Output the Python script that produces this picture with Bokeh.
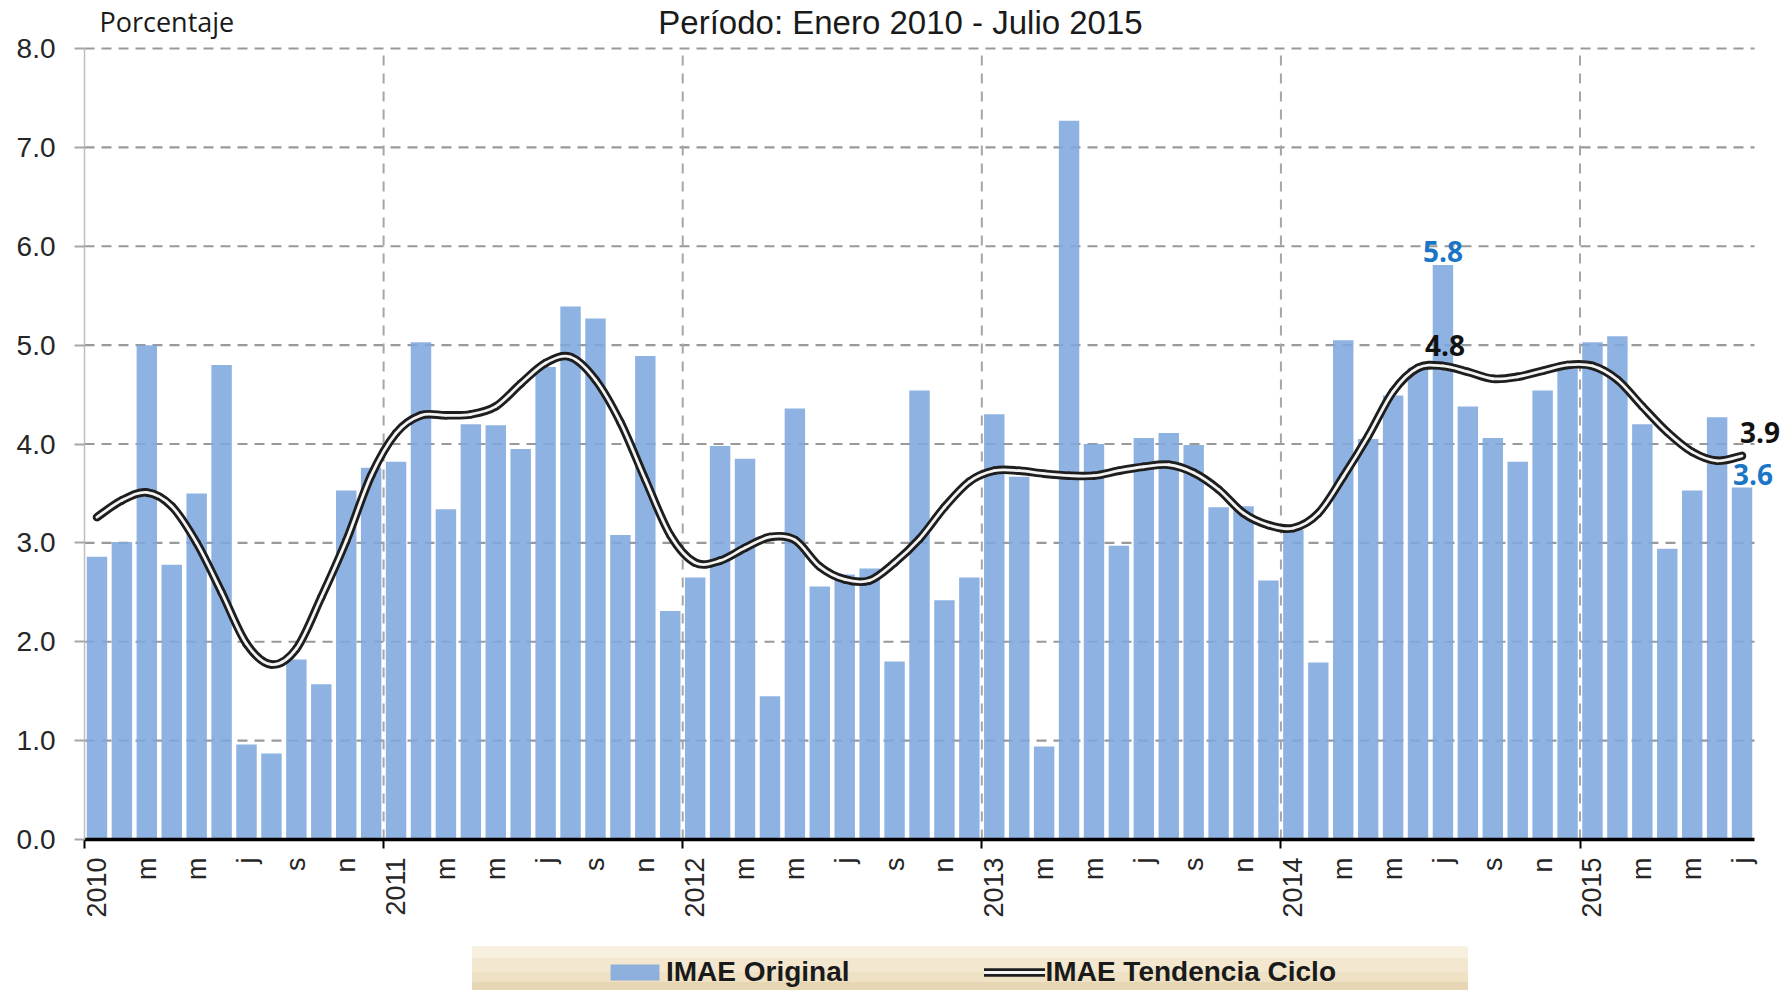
import math
from bokeh.plotting import figure
from bokeh.layouts import column
from bokeh.models import (Range1d, FixedTicker, NumeralTickFormatter, ColumnDataSource,
                          LabelSet, Label, Legend, LegendItem)
from bokeh.embed import file_html
from bokeh.resources import INLINE
from bokeh.core.properties import value

# ---------------- data ----------------
years = [2010, 2011, 2012, 2013, 2014, 2015]
month_letters = ["e", "f", "m", "a", "m", "j", "j", "a", "s", "o", "n", "d"]
shown_months = [0, 2, 4, 6, 8, 10]   # Jan (year), Mar, May, Jul, Sep, Nov

imae_original = [
    2.86, 3.01, 5.00, 2.78, 3.50, 4.80, 0.96, 0.87, 1.82, 1.57, 3.53, 3.76,   # 2010
    3.82, 5.03, 3.34, 4.20, 4.19, 3.95, 4.78, 5.39, 5.27, 3.08, 4.89, 2.31,   # 2011
    2.65, 3.98, 3.85, 1.45, 4.36, 2.56, 2.68, 2.74, 1.80, 4.54, 2.42, 2.65,   # 2012
    4.30, 3.67, 0.94, 7.27, 4.00, 2.97, 4.06, 4.11, 3.99, 3.36, 3.37, 2.62,   # 2013
    3.13, 1.79, 5.05, 4.05, 4.49, 4.77, 5.81, 4.38, 4.06, 3.82, 4.54, 4.76,   # 2014
    5.03, 5.09, 4.20, 2.94, 3.53, 4.27, 3.56,                                 # 2015
]
imae_tendencia = [
    3.26, 3.43, 3.51, 3.37, 3.00, 2.50, 1.98, 1.77, 1.93, 2.45, 3.02, 3.68,   # 2010
    4.11, 4.29, 4.29, 4.30, 4.38, 4.61, 4.82, 4.88, 4.65, 4.22, 3.64, 3.08,   # 2011
    2.80, 2.82, 2.95, 3.06, 3.03, 2.76, 2.63, 2.62, 2.80, 3.04, 3.36, 3.62,   # 2012
    3.73, 3.73, 3.70, 3.68, 3.68, 3.73, 3.77, 3.79, 3.71, 3.54, 3.30, 3.18,   # 2013
    3.15, 3.30, 3.67, 4.08, 4.53, 4.77, 4.79, 4.73, 4.66, 4.68, 4.74, 4.80,   # 2014
    4.79, 4.65, 4.38, 4.12, 3.92, 3.83, 3.88,                                 # 2015
]
bar_label_idx = [54, 66]     # Jul 2014, Jul 2015
trend_label_idx = [54, 66]
y_ticks = [0, 1, 2, 3, 4, 5, 6, 7, 8]
series_names = ["IMAE Original", "IMAE Tendencia Ciclo"]
title_text = "Período: Enero 2010 - Julio 2015"
y_unit_text = "Porcentaje"

# ---------------- layout constants (pixels) ----------------
W = 1783
H_MAIN = 946
H_LEG = 44
FRAME_LEFT = 84          # y axis position
FRAME_BOTTOM = 839       # x axis position (from top)
PLOT_TOP = 48            # where the top tick (8.0) lies
PLOT_RIGHT = 1754        # where the last month ends
LABEL_FIX = 9            # screen-label baseline correction

BAR = "#7ea7de"
FONT = "Liberation Sans"

# ---------------- derived ----------------
n = len(imae_original)
xc = [i + 0.5 for i in range(n)]
tick_pos, tick_lab = [], []
for i in range(n):
    m = i % 12
    if m in shown_months:
        tick_pos.append(xc[i])
        tick_lab.append(str(years[i // 12]) if m == 0 else month_letters[m])
year_starts = [12 * k for k in range(len(years))]
ymax = y_ticks[-1]

# smooth (Catmull-Rom style) rendering of the trend series as Bezier segments
bx0, by0, bx1, by1, bcx0, bcy0, bcx1, bcy1 = ([] for _ in range(8))
for i in range(n - 1):
    a, b = max(i - 1, 0), min(i + 2, n - 1)
    bx0.append(xc[i]); by0.append(imae_tendencia[i])
    bx1.append(xc[i + 1]); by1.append(imae_tendencia[i + 1])
    bcx0.append(xc[i] + (xc[i + 1] - xc[a]) / 6)
    bcy0.append(imae_tendencia[i] + (imae_tendencia[i + 1] - imae_tendencia[a]) / 6)
    bcx1.append(xc[i + 1] - (xc[b] - xc[i]) / 6)
    bcy1.append(imae_tendencia[i + 1] - (imae_tendencia[b] - imae_tendencia[i]) / 6)

# extend the ranges so the frame reaches the top and right edges of the canvas
x_hi = n * (W - FRAME_LEFT) / (PLOT_RIGHT - FRAME_LEFT)
y_hi = ymax * FRAME_BOTTOM / (FRAME_BOTTOM - PLOT_TOP)

p = figure(width=W, height=H_MAIN, output_backend="svg", toolbar_location=None,
           x_range=Range1d(0, x_hi), y_range=Range1d(0, y_hi),
           min_border_left=FRAME_LEFT, min_border_right=0, min_border_top=0,
           min_border_bottom=H_MAIN - FRAME_BOTTOM, title_location=None)
p.outline_line_color = None
p.background_fill_color = "white"
p.xgrid.visible = False
p.ygrid.visible = False

# axes
xa = p.xaxis[0]
xa.bounds = (0, n)
xa.ticker = FixedTicker(ticks=tick_pos, minor_ticks=year_starts)
xa.major_label_overrides = {t: l for t, l in zip(tick_pos, tick_lab)}
xa.major_label_orientation = math.pi / 2
xa.major_tick_out = 0
xa.major_tick_in = 0
xa.minor_tick_out = 9
xa.minor_tick_in = 0
xa.minor_tick_line_color = "black"
xa.minor_tick_line_width = 2
xa.axis_line_color = "black"
xa.axis_line_width = 3.5
xa.major_label_standoff = 9
xa.major_label_text_font = FONT
xa.major_label_text_font_size = "27px"
xa.major_label_text_color = "#262626"

ya = p.yaxis[0]
ya.bounds = (0, ymax)
ya.ticker = FixedTicker(ticks=y_ticks)
ya.formatter = NumeralTickFormatter(format="0.0")
ya.axis_line_color = "#bfbfbf"
ya.axis_line_width = 1.5
ya.major_tick_out = 10
ya.major_tick_in = 0
ya.major_tick_line_color = "#a6a6a6"
ya.major_tick_line_width = 2
ya.minor_tick_out = 0
ya.minor_tick_in = 0
ya.major_label_standoff = 19
ya.major_label_text_font = FONT
ya.major_label_text_font_size = "28px"
ya.major_label_text_color = "#262626"

# dashed grid (limited to the data area)
hg = ColumnDataSource(dict(x0=[0] * (len(y_ticks) - 1), x1=[n] * (len(y_ticks) - 1),
                           y=y_ticks[1:]))
p.segment(x0="x0", x1="x1", y0="y", y1="y", source=hg,
          line_color="#999999", line_width=2.2, line_dash="10 7")
vg = ColumnDataSource(dict(x=year_starts[1:], y0=[0] * (len(year_starts) - 1),
                           y1=[ymax] * (len(year_starts) - 1)))
p.segment(x0="x", x1="x", y0="y0", y1="y1", source=vg,
          line_color="#a6a6a6", line_width=2, line_dash="10 8")

# bars
src = ColumnDataSource(dict(x=xc, orig=imae_original, trend=imae_tendencia))
p.vbar(x="x", top="orig", width=0.82, source=src,
       fill_color=BAR, fill_alpha=0.88, line_color=None)

# trend line (double line: dark outline with light core)
bz = ColumnDataSource(dict(x0=bx0, y0=by0, x1=bx1, y1=by1,
                           cx0=bcx0, cy0=bcy0, cx1=bcx1, cy1=bcy1))
p.bezier(x0="x0", y0="y0", x1="x1", y1="y1", cx0="cx0", cy0="cy0", cx1="cx1", cy1="cy1",
         source=bz, line_color="#1e1e1e", line_width=8.5, line_cap="round")
p.bezier(x0="x0", y0="y0", x1="x1", y1="y1", cx0="cx0", cy0="cy0", cx1="cx1", cy1="cy1",
         source=bz, line_color="#f4f4f4", line_width=2.8, line_cap="round")

# data labels
bl = ColumnDataSource(dict(
    x=[xc[i] for i in bar_label_idx],
    y=[imae_original[i] for i in bar_label_idx],
    t=["%.1f" % imae_original[i] for i in bar_label_idx],
    xo=[0, 11], yo=[3, 3]))
p.add_layout(LabelSet(x="x", y="y", text="t", source=bl, x_offset="xo", y_offset="yo",
                      text_align="center", text_baseline="alphabetic",
                      text_font=value("Open Sans"), text_font_style="bold",
                      text_font_size="28px", text_color="#1b75c6"))
tl = ColumnDataSource(dict(
    x=[xc[i] for i in trend_label_idx],
    y=[imae_tendencia[i] for i in trend_label_idx],
    t=["%.1f" % imae_tendencia[i] for i in trend_label_idx],
    xo=[2, 18], yo=[10, 13]))
p.add_layout(LabelSet(x="x", y="y", text="t", source=tl, x_offset="xo", y_offset="yo",
                      text_align="center", text_baseline="alphabetic",
                      text_font=value("Open Sans"), text_font_style="bold",
                      text_font_size="28px", text_color="#111111"))

# texts above the plot area (inside the extended frame)
p.add_layout(Label(x=99 - FRAME_LEFT, y=FRAME_BOTTOM - 30 + LABEL_FIX,
                   x_units="screen", y_units="screen",
                   text=y_unit_text, text_font="Open Sans", text_font_size="27px",
                   text_color="#1a1a1a", text_baseline="alphabetic"))
p.add_layout(Label(x=900 - FRAME_LEFT, y=FRAME_BOTTOM - 31 + LABEL_FIX,
                   x_units="screen", y_units="screen",
                   text=title_text, text_align="center",
                   text_font=FONT, text_font_size="33px", text_color="#1a1a1a",
                   text_baseline="alphabetic"))

# ---------------- legend strip ----------------
q = figure(width=W, height=H_LEG, output_backend="svg", toolbar_location=None,
           x_range=Range1d(FRAME_LEFT, W), y_range=Range1d(0, H_LEG),
           x_axis_type=None, y_axis_type=None,
           min_border_left=FRAME_LEFT, min_border_right=0,
           min_border_top=0, min_border_bottom=0, title_location=None)
q.outline_line_color = None
q.background_fill_color = "white"
bands = ColumnDataSource(dict(left=[472] * 4, right=[1467] * 4,
                              bottom=[32, 18, 8, 0], top=[44, 32, 18, 8],
                              color=["#f7f0de", "#f3e8cf", "#eee1c4", "#e6d6b3"]))
q.quad(left="left", right="right", bottom="bottom", top="top", color="color", source=bands)
# legend proxies (single zero-size point, nothing visible is drawn)
proxy = ColumnDataSource(dict(x=[FRAME_LEFT], y=[0]))
r_bar = q.vbar(x="x", top="y", width=0, source=proxy, fill_color=BAR, fill_alpha=0.88,
               line_color=None)
r_out = q.line(x="x", y="y", source=proxy, line_color="#1e1e1e", line_width=8.5,
               line_cap="round")
r_in = q.line(x="x", y="y", source=proxy, line_color="#f4f4f4", line_width=2.8,
              line_cap="round")
legend = Legend(items=[LegendItem(label=series_names[0], renderers=[r_bar]),
                       LegendItem(label=series_names[1], renderers=[r_out, r_in])],
                location=(604 - FRAME_LEFT, 2), orientation="horizontal",
                background_fill_alpha=0, border_line_color=None,
                padding=0, margin=0, spacing=134,
                glyph_width=61, glyph_height=20, label_standoff=1,
                label_text_font=FONT, label_text_font_style="bold",
                label_text_font_size="28px", label_text_color="#1a1a1a")
q.add_layout(legend)

page = column(p, q, spacing=0)
open("out.html", "w").write(file_html(page, INLINE))
